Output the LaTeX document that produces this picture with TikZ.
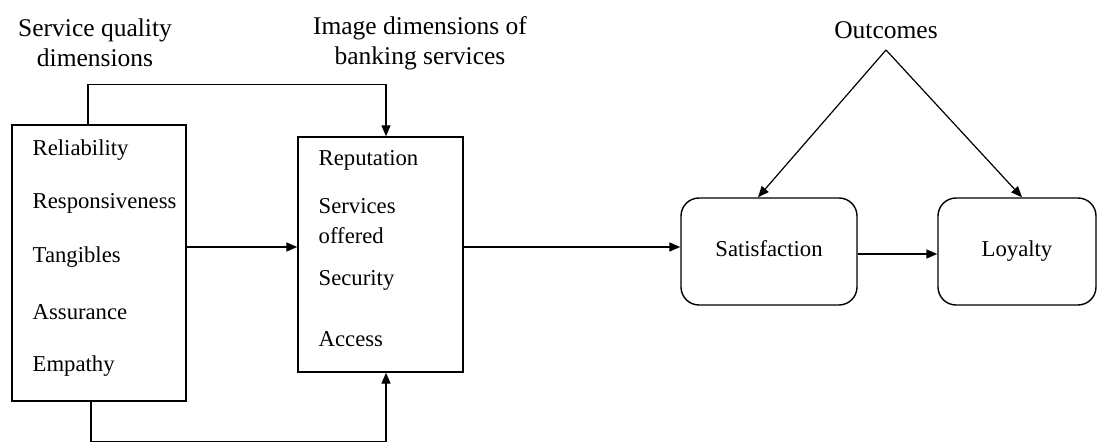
\documentclass[tikz,border=0pt]{standalone}
\usepackage{fontspec}
\setmainfont{Liberation Serif}
\usetikzlibrary{arrows.meta}
\begin{document}
\begin{tikzpicture}[x=1pt,y=-1pt,
  line width=1.4pt,
  box/.style={draw, rectangle, inner sep=0pt},
  roundbox/.style={draw, rectangle, rounded corners=18pt, inner sep=0pt,
    text height=16pt, text depth=5pt,
    font=\fontsize{22.7}{26}\selectfont},
  item/.style={anchor=west, inner sep=0pt, font=\fontsize{22.7}{26}\selectfont},
  head/.style={align=center, inner sep=0pt, font=\fontsize{25.5}{30}\selectfont},
  arr/.style={-{Triangle[length=11pt,width=9pt]}},
  link/.style={line width=1.2pt}]
\useasboundingbox (0,0) rectangle (1102,443);

% headings
\node[head] (hsq) at (95,43) {Service quality\\dimensions};
\node[head] (hid) at (420,43) {Image dimensions of\\banking services};
\node[head] (hout) at (886,30) {Outcomes};

% service quality box
\node[box, minimum width=174pt, minimum height=276pt] (L) at (99,263) {};
\node[item] (l1) at (32,150) {Reliability};
\node[item] (l2) at (32,203) {Responsiveness};
\node[item] (l3) at (32,257) {Tangibles};
\node[item] (l4) at (32,312) {Assurance};
\node[item] (l5) at (32,366) {Empathy};

% image dimensions box
\node[box, minimum width=165pt, minimum height=235pt] (M) at (380.5,254.5) {};
\node[item] (m1) at (318,160) {Reputation};
\node[item, align=left, font=\fontsize{22.7}{30}\selectfont] (m2) at (318,221) {Services\\offered};
\node[item] (m3) at (318,280) {Security};
\node[item] (m4) at (318,339) {Access};

% outcomes
\node[roundbox, minimum width=176pt, minimum height=107pt] (S) at (769,251.5) {Satisfaction};
\node[roundbox, minimum width=158pt, minimum height=107pt] (Lo) at (1017,251.5) {Loyalty};

% connectors
\draw[arr] ([xshift=-11]L.north) -- ++(0,-40) -| ([xshift=5.5]M.north);
\draw[arr] ([xshift=-8]L.south) -- ++(0,40) -| ([xshift=5.5]M.south);
\draw[arr] ([yshift=16]L.east) -- ([yshift=7.5]M.west);
\draw[arr] ([yshift=7.5]M.east) -- ([yshift=4.5]S.west);
\draw[arr] ([yshift=-2.5]S.east) -- ([yshift=-2.5]Lo.west);

\coordinate (apex) at (886,50);
\draw[arr, link] (apex) -- ([xshift=-11]S.north);
\draw[arr, link] (apex) -- ([xshift=5]Lo.north);
\end{tikzpicture}
\end{document}
